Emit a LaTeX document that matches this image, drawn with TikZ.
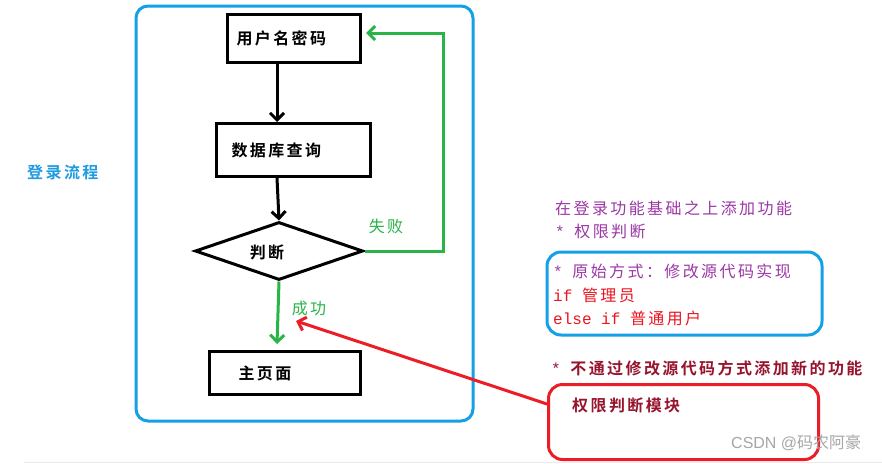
\documentclass[tikz,border=0pt]{standalone}
\usepackage{fontspec}
\usetikzlibrary{arrows.meta,shapes.geometric}
\setmainfont{Noto Sans CJK SC}
\newfontfamily\cjk[LetterSpace=15]{Noto Sans CJK SC}
\newfontfamily\cjkb[LetterSpace=15]{Noto Sans CJK SC Bold}
\newfontfamily\cjkplain{Noto Sans CJK SC}
\newfontfamily\monof{Liberation Mono}
\newfontfamily\wmfont{Liberation Sans}
\definecolor{frameblue}{RGB}{20,160,230}
\definecolor{flowgreen}{RGB}{40,180,70}
\definecolor{arrowred}{RGB}{235,30,40}
\definecolor{txtpurple}{RGB}{155,55,165}
\definecolor{txtred}{RGB}{235,20,30}
\definecolor{txtdark}{RGB}{150,20,45}
\definecolor{txtblue}{RGB}{30,155,225}
\begin{document}
\begin{tikzpicture}[x=1pt,y=-1pt,
  every node/.style={font=\fontsize{16}{19}\selectfont\cjk, inner sep=0pt},
  flowbox/.style={draw=black, line width=3pt, anchor=north west, align=left, font=\fontsize{16}{19}\selectfont\cjkb},
  blk/.style={line width=3pt, -{Straight Barb[length=7pt,width=14pt,line width=3pt]}},
  grn/.style={draw=flowgreen, line width=3pt},
  grnarrow/.style={grn, -{Straight Barb[length=7pt,width=14pt,line width=3pt]}},
  txt/.style={anchor=west},
]
\useasboundingbox (0,0) rectangle (882,463);
\fill[white] (0,0) rectangle (882,463);
\draw[black!8, line width=0.8pt] (24,462) -- (882,462);

% big frame
\draw[frameblue, line width=3pt, rounded corners=12pt] (136,6) rectangle (473,421);
\node[txt, text=txtblue, font=\fontsize{16}{19}\selectfont\cjkb] (title) at (27,172) {登录流程};

% flow boxes
\node[flowbox, inner xsep=9pt, text width=115pt, minimum height=48pt] (user) at (226,13) {用户名密码};
\node[flowbox, inner xsep=15pt, text width=124pt, minimum height=53pt] (db) at (215,122) {数据库查询};
\node[draw=black, line width=3pt, diamond, aspect=2.9, minimum width=168pt, minimum height=58pt] (judge) at (279,251) {};
\node[font=\fontsize{16}{19}\selectfont\cjkb] (judgetxt) at (267,252) {判断};
\node[flowbox, inner xsep=29pt, text width=93pt, minimum height=43pt] (home) at (208,350) {主页面};

\draw[blk] (user.south -| 277,0) -- (db.north -| 277,0);
\draw[blk] (db.south -| 277,0) -- (judge.north);

% fail loop
\coordinate (fc1) at (443,251);
\coordinate (fc2) at (443,33);
\coordinate (fc3) at (366,33);
\draw[grnarrow] (judge.east) -- (fc1) -- (fc2) -- (fc3);
\node[text=flowgreen] (fail) at (386,226) {失败};

% success
\coordinate (succend) at (277,344);
\draw[grnarrow] (judge.south) -- (succend);
\node[text=flowgreen] (succ) at (309,308) {成功};

% right text
\node[txt, text=txtpurple] (add) at (555,208) {在登录功能基础之上添加功能};
\node[txt, text=txtpurple] (perm) at (555,231) {{\monof * }权限判断};

\draw[frameblue, line width=3pt, rounded corners=14pt] (547,252) rectangle (822,335);
\node[txt, text=txtpurple] (orig) at (553,271) {{\monof * }原始方式：修改源代码实现};
\node[txt, text=txtred] (ifa) at (553,295) {{\monof if }管理员};
\node[txt, text=txtred] (ifb) at (553,318) {{\monof else if }普通用户};

\node[txt, text=txtdark, font=\fontsize{16}{19}\selectfont\cjkb] (notmod) at (551,368) {{\monof * }不通过修改源代码方式添加新的功能};
\node[draw=arrowred, line width=3pt, rounded corners=14pt, anchor=north west, minimum width=270pt, minimum height=75pt] (module) at (547,383) {};
\node[txt, text=txtdark, font=\fontsize{16}{19}\selectfont\cjkb] (modtxt) at (572,405) {权限判断模块};
\node[txt, text=black!35, font=\fontsize{16}{18}\selectfont\wmfont] (wm) at (731,443) {CSDN @{\cjkplain 码农阿豪}};

\coordinate (redtip) at (296,321);
\draw[arrowred, line width=3pt, -{Straight Barb[length=7pt,width=14pt,line width=3pt]}] (module.west |- 0,404) -- (redtip);
\end{tikzpicture}
\end{document}
